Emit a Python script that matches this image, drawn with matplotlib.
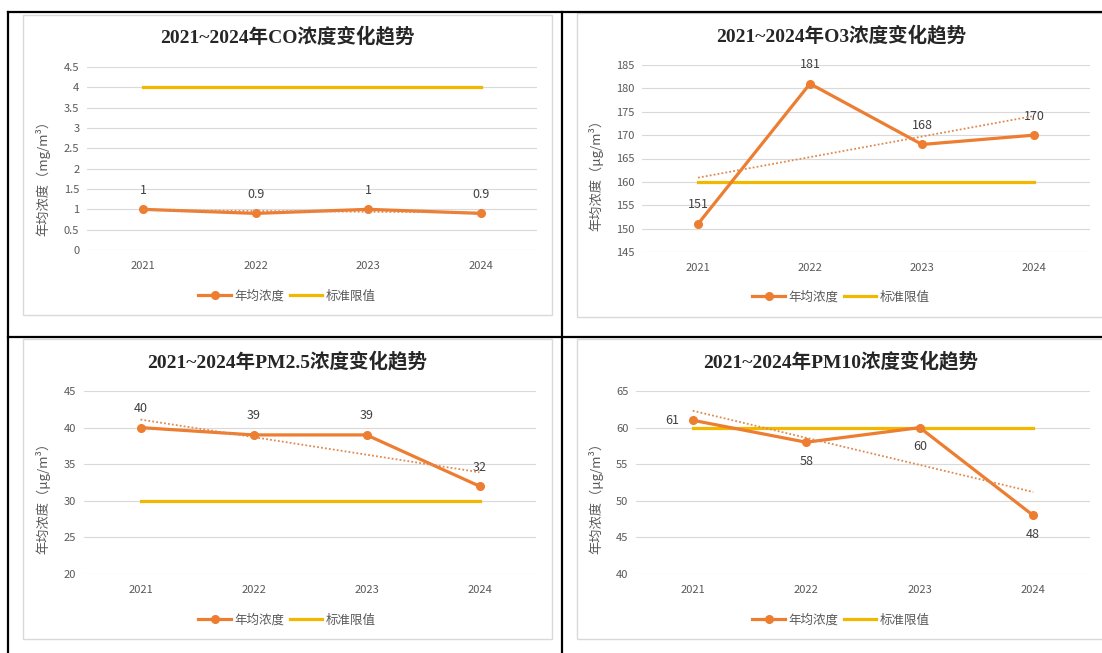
import numpy as np
import matplotlib
matplotlib.use("Agg")
import matplotlib.pyplot as plt
from matplotlib.lines import Line2D
from matplotlib.patches import Rectangle

plt.rcParams['font.family'] = ['Noto Sans CJK SC', 'DejaVu Sans']

years = ['2021', '2022', '2023', '2024']

co = [1, 0.9, 1, 0.9]
co_limit = [4, 4, 4, 4]
o3 = [151, 181, 168, 170]
o3_limit = [160, 160, 160, 160]
pm25 = [40, 39, 39, 32]
pm25_limit = [30, 30, 30, 30]
pm10 = [61, 58, 60, 48]
pm10_limit = [60, 60, 60, 60]

titles = ['2021~2024年CO浓度变化趋势', '2021~2024年O3浓度变化趋势',
          '2021~2024年PM2.5浓度变化趋势', '2021~2024年PM10浓度变化趋势']
units = ['年均浓度（mg/m³）', '年均浓度（μg/m³）', '年均浓度（μg/m³）', '年均浓度（μg/m³）']

W, H = 1102, 653
ORANGE = '#ED7D31'
YELLOW = '#F2B800'
GRID = '#D9D9D9'
TXT = '#595959'


def fbox(x0, y0, x1, y1):
    return [x0 / W, 1 - y1 / H, (x1 - x0) / W, (y1 - y0) / H]


fig = plt.figure(figsize=(W / 100, H / 100), dpi=100)

# table borders
for (xa, ya, xb, yb) in [(8, 12, W, 12), (8, 337, W, 337), (8, 12, 8, H), (562, 12, 562, H)]:
    fig.add_artist(Line2D([xa / W, xb / W], [1 - ya / H, 1 - yb / H], color='black', lw=1.6))

# chart frames
for (x0, y0, x1, y1) in [(23, 15, 552, 315), (577, 13, W + 5, 317), (23, 339, 552, 639), (577, 339, W + 5, 639)]:
    b = fbox(x0, y0, x1, y1)
    fig.add_artist(Rectangle((b[0], b[1]), b[2], b[3], transform=fig.transFigure,
                             fill=False, edgecolor=GRID, lw=1))

panels = [
    dict(data=co, limit=co_limit, ylim=(0, 4.5), step=0.5, box=(87, 67, 537, 250),
         cx=287, ty=36, ly=296, yl=(43, 175), pos=['up', 'up', 'up', 'up']),
    dict(data=o3, limit=o3_limit, ylim=(145, 185), step=5, box=(642, 65, 1090, 252),
         cx=841, ty=35, ly=297, yl=(596, 172), pos=['up', 'up', 'up', 'up']),
    dict(data=pm25, limit=pm25_limit, ylim=(20, 45), step=5, box=(84, 391, 536, 574),
         cx=287, ty=361, ly=620, yl=(43, 495), pos=['up', 'up', 'up', 'up']),
    dict(data=pm10, limit=pm10_limit, ylim=(40, 65), step=5, box=(636, 391, 1090, 574),
         cx=841, ty=361, ly=620, yl=(596, 495), pos=['left', 'down', 'down', 'down']),
]

x = np.arange(len(years))
for p, title, unit in zip(panels, titles, units):
    ax = fig.add_axes(fbox(*p['box']))
    lo, hi = p['ylim']
    ax.set_ylim(lo, hi)
    ax.set_xlim(-0.5, len(years) - 0.5)
    yt = np.arange(lo, hi + p['step'] / 2, p['step'])
    ax.set_yticks(yt)
    ax.set_yticklabels([f'{v:g}' for v in yt])
    ax.set_xticks(x)
    ax.set_xticklabels(years)
    ax.tick_params(length=0, labelsize=8, colors=TXT, pad=8)
    ax.tick_params(axis='y', pad=5.5)
    for s in ax.spines.values():
        s.set_visible(False)
    ax.grid(axis='y', color=GRID, lw=0.8)
    ax.set_axisbelow(True)

    l1, = ax.plot(x, p['data'], color=ORANGE, lw=2.3, marker='o', ms=5.5, zorder=4)
    l2, = ax.plot(x, p['limit'], color=YELLOW, lw=2.3, zorder=3)
    k, b = np.polyfit(x, p['data'], 1)
    ax.plot(x, k * x + b, color='#DE8A50', lw=1.3, ls=(0, (1, 1.2)), zorder=5)

    for xi, v, where in zip(x, p['data'], p['pos']):
        off = {'up': (0, 19), 'down': (0, -19), 'left': (-21, 0)}[where]
        ax.annotate(f'{v:g}', (xi, v), xytext=off, textcoords='offset pixels',
                    ha='center', va='center', fontsize=9, color='#404040')

    fig.text(p['cx'] / W, 1 - p['ty'] / H, title, ha='center', va='center',
             fontsize=14, fontweight='bold', color='#262626',
             family=['Liberation Serif', 'Noto Sans CJK SC'])
    fig.text(p['yl'][0] / W, 1 - p['yl'][1] / H, unit, rotation=90, ha='center',
             va='center', fontsize=9.5, color=TXT)
    fig.legend([l1, l2], ['年均浓度', '标准限值'], loc='center',
               bbox_to_anchor=(p['cx'] / W, 1 - p['ly'] / H), ncol=2, frameon=False,
               fontsize=9, labelcolor=TXT, handlelength=2.6, handletextpad=0.3,
               columnspacing=0.4, borderpad=0)

fig.savefig('out.png', dpi=100, facecolor='white')
